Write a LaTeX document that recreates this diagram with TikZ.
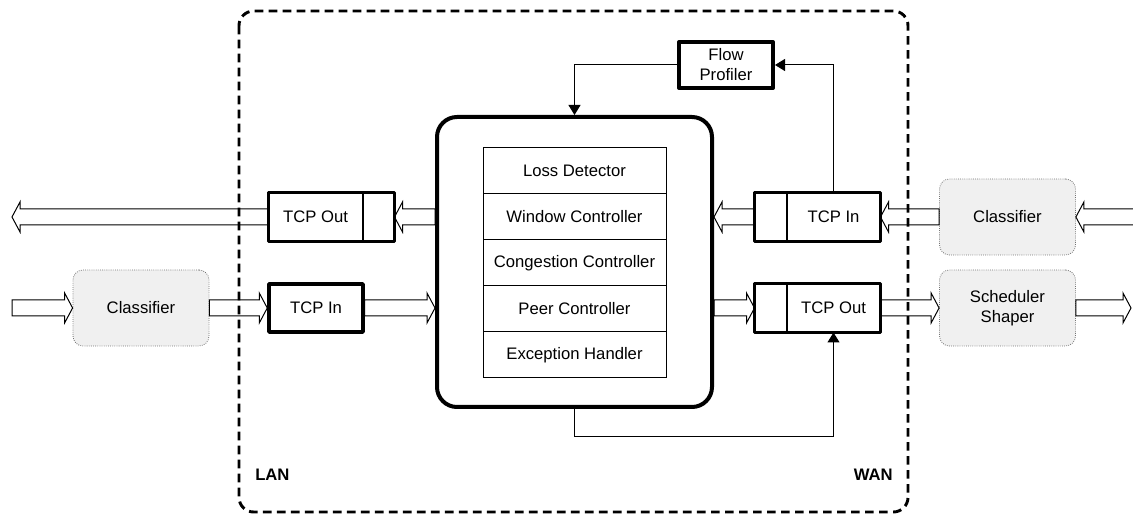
\documentclass[tikz,border=0pt]{standalone}
\usepackage{fontspec}
\setmainfont{Liberation Sans}
\usetikzlibrary{arrows.meta,calc}

\newcommand{\fatarrow}[2]{%
  \draw[fat] let \p1=#1, \p2=#2, \n1={ifthenelse(\x2>\x1,6,-6)} in
    (\x1,{\y1+6pt}) -- ({\x2-\n1},{\y1+6pt}) -- ({\x2-\n1},{\y1+11.25pt})
    -- (\x2,\y1) -- ({\x2-\n1},{\y1-11.25pt}) -- ({\x2-\n1},{\y1-6pt})
    -- (\x1,{\y1-6pt}) -- cycle;}

\begin{document}
\begin{tikzpicture}
    [x=0.75pt, y=-0.75pt,
    every node/.style={font=\fontsize{12.5}{15}\selectfont, inner sep=0pt},
    core/.style={draw, line width=3pt, rounded corners=15pt,
        minimum width=206.25pt, minimum height=217.5pt},
    row/.style={draw, line width=0.75pt, minimum width=137.25pt, minimum height=34.5pt},
    tcp/.style={draw, line width=0.75pt, minimum height=36pt},
    frame/.style={draw, line width=2.6pt, line join=round},
    cls/.style={draw=black!55, densely dotted, line width=0.6pt, fill=black!6,
        rounded corners=7.5pt, minimum width=102pt, minimum height=57pt, align=center},
    link/.style={line width=0.75pt, -{Triangle[length=7.5pt,width=9pt]}},
    fat/.style={draw, line width=0.75pt, line join=miter},
    zone/.style={line width=2.2pt, dash pattern=on 6.5pt off 4pt, rounded corners=11pt},
    side/.style={font=\fontsize{12.5}{15}\selectfont\bfseries}]

    \useasboundingbox (0,0) rectangle (1133,516);

    \draw[zone] (239,11) rectangle (908,512);
    \node[side, anchor=west] (lan) at (255,475) {LAN};
    \node[side, anchor=east] (wan) at (893,475) {WAN};

    \node[core] (core) at (574.5,262) {};
    \foreach \t [count=\i] in {Loss Detector, Window Controller,
        Congestion Controller, Peer Controller, Exception Handler}
        \node[row] (row\i) at (574.5,125+46*\i) {\t};

    \node[frame, line width=3pt, minimum width=70.5pt, minimum height=34.5pt, align=center]
        (flow) at (726,65) {Flow\\Profiler};

    \node[tcp, minimum width=69.75pt] (tcpoutL) at (315.5,217) {TCP Out};
    \node[tcp, minimum width=23.25pt, anchor=west] (tcpoutLq) at (tcpoutL.east) {};
    \draw[frame] (tcpoutL.north west) rectangle (tcpoutLq.south east);
    \node[frame, minimum width=70.5pt, minimum height=36pt] (tcpinL) at (316,308) {TCP In};

    \node[tcp, minimum width=69.75pt] (tcpinW) at (833.5,217) {TCP In};
    \node[tcp, minimum width=23.25pt, anchor=east] (tcpinWq) at (tcpinW.west) {};
    \draw[frame] (tcpinWq.north west) rectangle (tcpinW.south east);
    \node[tcp, minimum width=69.75pt] (tcpoutW) at (833.5,308) {TCP Out};
    \node[tcp, minimum width=23.25pt, anchor=east] (tcpoutWq) at (tcpoutW.west) {};
    \draw[frame] (tcpoutWq.north west) rectangle (tcpoutW.south east);

    \node[cls] (clsL) at (141,308) {Classifier};
    \node[cls] (clsW) at (1007.5,217) {Classifier};
    \node[cls] (shaper) at (1007.5,308) {Scheduler\\Shaper};

    \coordinate (lanout) at (12,217);
    \coordinate (lanin) at (12,308);
    \coordinate (wanin) at (1137,217);
    \coordinate (wanout) at (1131,308);

    \fatarrow{(tcpoutL.west)}{(lanout)}
    \fatarrow{(core.west |- tcpoutLq.east)}{(tcpoutLq.east)}
    \fatarrow{(lanin)}{(clsL.west)}
    \fatarrow{(clsL.east)}{(tcpinL.west)}
    \fatarrow{(tcpinL.east)}{(tcpinL.east -| core.west)}
    \fatarrow{(tcpinWq.west)}{(tcpinWq.west -| core.east)}
    \fatarrow{(clsW.west)}{(tcpinW.east)}
    \fatarrow{(wanin)}{(clsW.east)}
    \fatarrow{(core.east |- tcpoutWq.west)}{(tcpoutWq.west)}
    \fatarrow{(tcpoutW.east)}{(shaper.west)}
    \fatarrow{(shaper.east)}{(wanout)}

    \draw[link] (tcpinW.north) |- (flow.east);
    \draw[link] (flow.west) -| (core.north);
    \draw[link] (core.south) -- ++(0,28) -| (tcpoutW.south);
\end{tikzpicture}
\end{document}
